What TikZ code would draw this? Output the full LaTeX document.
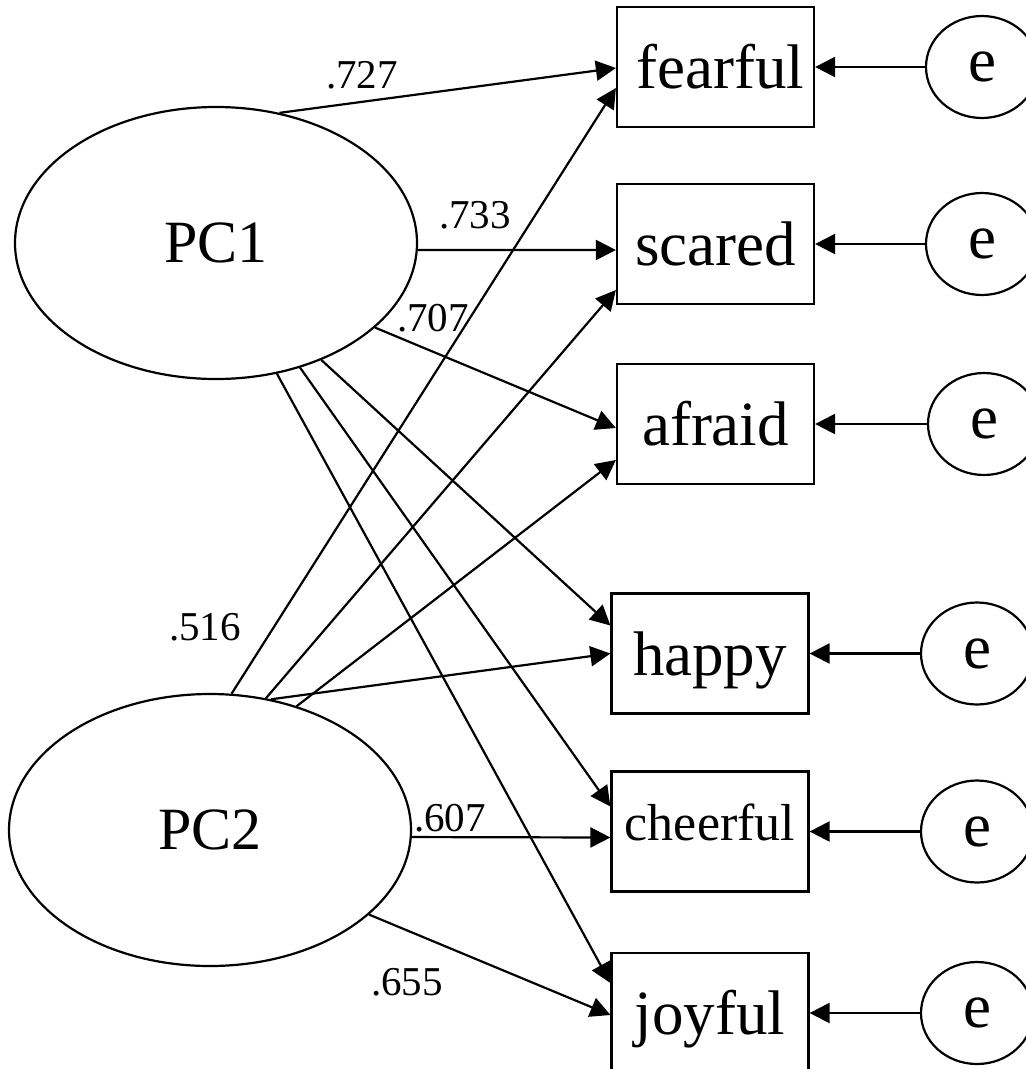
\documentclass[tikz,border=0pt]{standalone}
\usepackage{fontspec}
\setmainfont{Liberation Serif}
\usetikzlibrary{shapes.geometric,arrows.meta}
\begin{document}
\begin{tikzpicture}[x=1pt,y=-1pt,
  latent/.style={ellipse,draw,line width=2.2pt,minimum width=402pt,minimum height=272pt,inner sep=0pt,font=\fontsize{60}{60}\selectfont},
  obs/.style={rectangle,draw,line width=2.2pt,minimum width=197pt,minimum height=120pt,inner sep=0pt,font=\fontsize{63}{63}\selectfont,text height=43pt,text depth=0pt},
  err/.style={ellipse,draw,line width=2.2pt,minimum width=112pt,minimum height=102pt,inner sep=0pt,font=\fontsize{63}{63}\selectfont},
  conn/.style={line width=2.2pt,-{Triangle[length=20pt,width=20pt]}},
  coef/.style={font=\fontsize{41}{41}\selectfont,inner sep=0pt}
]
\useasboundingbox[fill=white] (0,0) rectangle (1026,1069);
% latent factors
\node[latent] (PC1) at (216,243) {PC1};
\node[latent] (PC2) at (210,830) {PC2};
% observed variables
\node[obs] (fearful) at (715.5,67) {\hspace{10pt}fearful};
\node[obs] (scared) at (715.5,244) {scared};
\node[obs] (afraid) at (715.5,424) {afraid};
\node[obs] (happy) at (710,653.5) {happy};
\node[obs,font=\fontsize{52}{52}\selectfont,text height=36pt,text depth=19pt] (cheerful) at (710,831.5) {cheerful};
\node[obs] (joyful) at (710,1013) {joyful};
% error terms
\node[err] (e1) at (982,67) {e};
\node[err] (e2) at (982,244) {e};
\node[err] (e3) at (984,424) {e};
\node[err] (e4) at (977,653.5) {e};
\node[err] (e5) at (977,831.5) {e};
\node[err] (e6) at (977,1013) {e};
% PC1 loadings
\draw[conn] (PC1.64.7) -- ([yshift=-1pt]fearful.west);
\draw[conn] (PC1.-2) -- ([yshift=-6pt]scared.west);
\draw[conn] (PC1.-28.7) -- ([yshift=-4pt]afraid.west);
\draw[conn] (PC1.-48.4) -- ([yshift=28pt]happy.west);
\draw[conn] (PC1.-56.6) -- ([yshift=25pt]cheerful.west);
\draw[conn] (PC1.-65.7) -- ([yshift=30pt]joyful.west);
% PC2 loadings
\draw[conn] (PC2.81) -- ([yshift=-21pt]fearful.west);
\draw[conn] (PC2.67.4) -- ([yshift=-46pt]scared.west);
\draw[conn] (PC2.55.6) -- ([yshift=-36pt]afraid.west);
\draw[conn] (PC2.65.1) -- (happy.west);
\draw[conn] (PC2.-2) -- ([yshift=-6pt]cheerful.west);
\draw[conn] (PC2.-28.2) -- ([yshift=-2pt]joyful.west);
% errors
\draw[conn] (e1) -- (fearful);
\draw[conn] (e2) -- (scared);
\draw[conn] (e3) -- (afraid);
\draw[conn] (e4) -- (happy);
\draw[conn] (e5) -- (cheerful);
\draw[conn] (e6) -- (joyful);
% coefficients
\node[coef] (c727) at (362,75) {.727};
\node[coef] (c733) at (475,215) {.733};
\node[coef] (c707) at (433,318) {.707};
\node[coef] (c516) at (205,627) {.516};
\node[coef] (c607) at (450,818) {.607};
\node[coef] (c655) at (407,982) {.655};
\end{tikzpicture}
\end{document}
